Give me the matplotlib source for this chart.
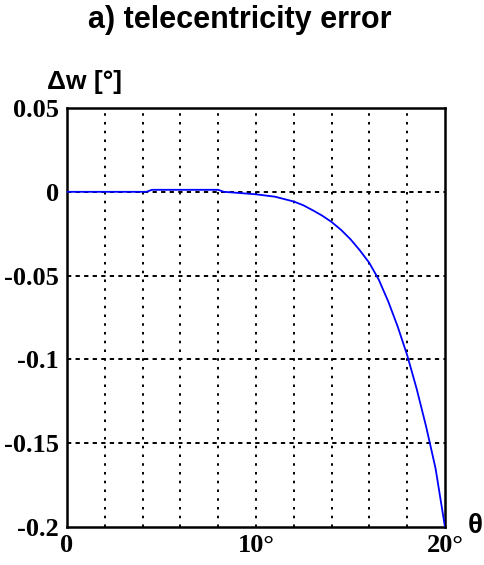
import matplotlib
matplotlib.use("Agg")
import matplotlib.pyplot as plt

# telecentricity error vs field angle
theta = [0, 4.2, 4.5, 8.0, 8.3, 9, 10, 11, 12, 12.5, 13, 13.5, 14, 14.5, 15, 15.5,
         16, 16.5, 17, 17.5, 18, 18.5, 19, 19.5, 20]
delta_w = [0, 0, 0.0012, 0.0012, 0.0, -0.0006, -0.0015, -0.0029, -0.0058, -0.008,
           -0.011, -0.0142, -0.018, -0.0227, -0.0283, -0.035, -0.0425, -0.0525,
           -0.0655, -0.0805, -0.0975, -0.1175, -0.140, -0.165, -0.2]

y_ticks = [0.05, 0, -0.05, -0.1, -0.15, -0.2]
y_tick_labels = ["0.05", "0", "-0.05", "-0.1", "-0.15", "-0.2"]
x_label_pos = [0, 10, 20]
x_label_text = ["0", "10°", "20°"]
x_grid = [2, 4, 6, 8, 10, 12, 14, 16, 18]

fig = plt.figure(figsize=(4.84, 5.65), dpi=100)
ax = fig.add_axes([0.1384, 0.0673, 0.781, 0.7415])

serif = {"family": "Liberation Serif", "weight": "bold", "size": 19}
sans = {"family": "Liberation Sans", "weight": "bold"}

for xv in x_grid:
    ax.axvline(xv, color="black", lw=1.4, linestyle=(0, (1.3, 3.2)), zorder=1)
for yv in y_ticks[1:-1]:
    ax.axhline(yv, color="black", lw=1.4, linestyle=(0, (2.2, 2.2)), zorder=1)

ax.plot(theta, delta_w, color="#0000ff", lw=1.3, zorder=3)

ax.set_xlim(0, 20)
ax.set_ylim(-0.2, 0.05)
ax.set_yticks(y_ticks)
ax.set_yticklabels(y_tick_labels, fontdict=serif)
ax.set_xticks(x_label_pos)
ax.set_xticklabels(x_label_text, fontdict=serif)
ax.tick_params(axis="y", length=0, pad=6)
ax.tick_params(axis="x", length=0, pad=5)
for s in ax.spines.values():
    s.set_linewidth(1.8)

fig.text(0.496, 0.965, "a) telecentricity error", ha="center", va="center",
         fontsize=22, **sans)
fig.text(0.098, 0.855, "Δw [°]", ha="left", va="center", fontsize=19, **sans)
fig.text(0.998, 0.069, "θ", ha="right", va="center", fontsize=20, **sans)

fig.savefig("out.png", dpi=100)
